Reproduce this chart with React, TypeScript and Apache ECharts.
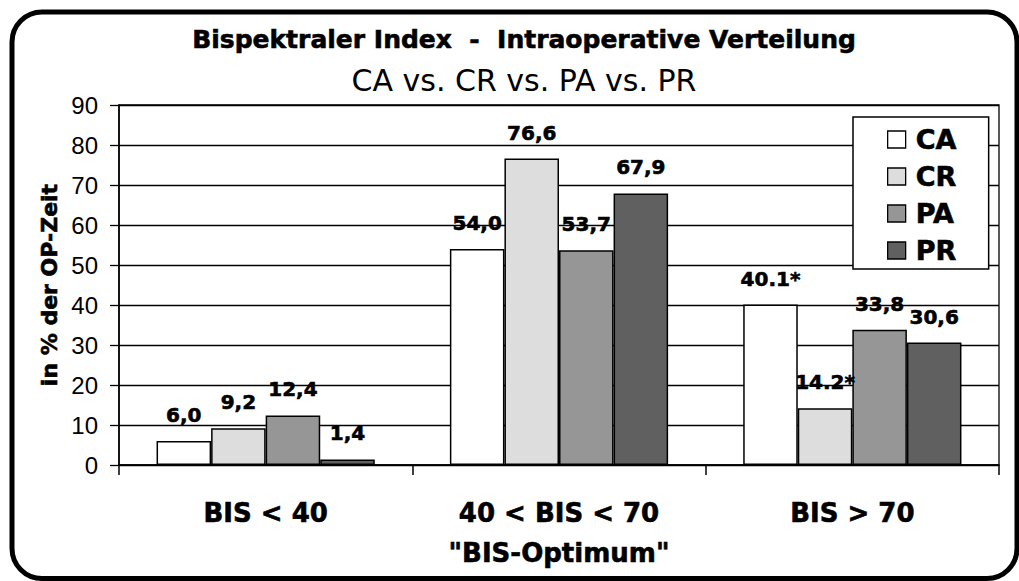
import React, { useEffect, useRef } from "react";
import * as echarts from "echarts";

const categories = ["BIS < 40", '40 < BIS < 70\n"BIS-Optimum"', "BIS > 70"];
const seriesNames = ["CA", "CR", "PA", "PR"];
const caValues = [6.0, 54.0, 40.1];
const crValues = [9.2, 76.6, 14.2];
const paValues = [12.4, 53.7, 33.8];
const prValues = [1.4, 67.9, 30.6];
const caLabels = ["6,0", "54,0", "40.1*"];
const crLabels = ["9,2", "76,6", "14.2*"];
const paLabels = ["12,4", "53,7", "33,8"];
const prLabels = ["1,4", "67,9", "30,6"];
const colors = ["#ffffff", "#dddddd", "#969696", "#606060"];

const titleText = "Bispektraler Index  -  Intraoperative Verteilung";
const subtitleText = "CA vs. CR vs. PA vs. PR";
const yAxisName = "in % der OP-Zeit";

const BOLD = '"DejaVu Sans"';
const ARIAL = '"Liberation Sans", Arial';
const heavy = { textBorderColor: "#000", textBorderWidth: 0.6 };

export default function App() {
  const ref = useRef<HTMLDivElement>(null);
  useEffect(() => {
    if (!ref.current) return;
    const chart = echarts.init(ref.current, null, { renderer: "svg" });
    const values = [caValues, crValues, paValues, prValues];
    const labels = [caLabels, crLabels, paLabels, prLabels];
    const series = seriesNames.map((name, i) => ({
      name,
      type: "bar",
      data: values[i],
      barGap: "0%",
      barCategoryGap: "25.6%",
      itemStyle: { color: colors[i], borderColor: "#000", borderWidth: 1.5 },
      label: {
        show: true,
        position: "top",
        distance: 16,
        fontFamily: BOLD,
        fontWeight: "bold",
        fontSize: 20,
        color: "#000",
        ...heavy,
        formatter: (p: any) => labels[i][p.dataIndex],
      },
    }));
    chart.setOption({
      animation: false,
      backgroundColor: "#fff",
      grid: {
        left: 119,
        top: 105,
        right: 20,
        bottom: 116,
        show: true,
        borderColor: "#000",
        borderWidth: 1.3,
        backgroundColor: "#fff",
      },
      legend: {
        orient: "vertical",
        left: 853,
        top: 117,
        data: seriesNames,
        backgroundColor: "#fff",
        borderColor: "#000",
        borderWidth: 1.5,
        padding: [8, 32, 4, 34],
        itemGap: 8,
        itemWidth: 18,
        itemHeight: 17,
        icon: "rect",
        itemStyle: { borderColor: "#000", borderWidth: 1.3 },
        textStyle: {
          fontFamily: BOLD,
          fontWeight: "bold",
          fontSize: 27,
          lineHeight: 29,
          color: "#000",
          padding: [0, 0, 0, 5],
          ...heavy,
        },
      },
      xAxis: {
        type: "category",
        data: categories,
        axisLine: { show: true, lineStyle: { color: "#000", width: 1.5 } },
        axisTick: { show: true, length: 10, lineStyle: { color: "#000", width: 1.5 } },
        axisLabel: {
          margin: 28,
          fontFamily: BOLD,
          fontWeight: "bold",
          fontSize: 26,
          lineHeight: 40,
          color: "#000",
          interval: 0,
          ...heavy,
        },
      },
      yAxis: {
        type: "value",
        min: 0,
        max: 90,
        interval: 10,
        name: yAxisName,
        nameLocation: "middle",
        nameGap: 57,
        nameTextStyle: {
          fontFamily: BOLD,
          fontWeight: "bold",
          fontSize: 22,
          color: "#000",
          ...heavy,
        },
        axisLine: { show: true, lineStyle: { color: "#000", width: 1.5 } },
        axisTick: { show: true, length: 9, lineStyle: { color: "#000", width: 1.3 } },
        axisLabel: { margin: 21, fontFamily: ARIAL, fontSize: 24, color: "#000" },
        splitLine: { show: true, lineStyle: { color: "#000", width: 1.3 } },
      },
      graphic: [
        {
          type: "rect",
          shape: { x: 12, y: 12, width: 1005, height: 566.5, r: 30 },
          style: { fill: "none", stroke: "#000", lineWidth: 5 },
          z: 100,
          silent: true,
        },
        {
          type: "text",
          x: 524,
          y: 39,
          style: {
            text: titleText,
            fontFamily: BOLD,
            fontWeight: "bold",
            fontSize: 25,
            fill: "#000",
            stroke: "#000",
            lineWidth: 0.6,
            align: "center",
            verticalAlign: "middle",
          },
        },
        {
          type: "text",
          x: 524,
          y: 80,
          style: {
            text: subtitleText,
            fontFamily: BOLD,
            fontSize: 30,
            fill: "#000",
            align: "center",
            verticalAlign: "middle",
          },
        },
      ],
      series,
    });
    return () => chart.dispose();
  }, []);
  return (
    <div
      ref={ref}
      style={{ position: "absolute", left: 0, top: 0, width: 1019, height: 581 }}
    />
  );
}
